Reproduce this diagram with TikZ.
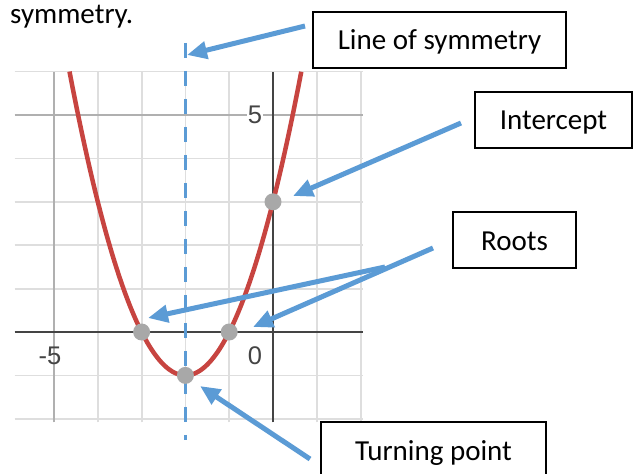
\documentclass[tikz,border=0pt]{standalone}
\usepackage{fontspec}
\setmainfont{Carlito}
\newfontfamily\graphfont{Liberation Sans}
\usetikzlibrary{arrows.meta}
\definecolor{arrowblue}{HTML}{5B9BD5}
\definecolor{curvered}{HTML}{C74440}
\definecolor{minorgrid}{HTML}{DEDEDE}
\definecolor{majorgrid}{HTML}{B0B0B0}
\definecolor{axisgray}{HTML}{444444}
\definecolor{pointgray}{HTML}{A8A8A8}
\begin{document}
\begin{tikzpicture}[x=1pt,y=-1pt,
  labelbox/.style={draw=black, line width=1.3pt, font=\fontsize{29}{34}\selectfont,
    text height=20pt, text depth=0pt, inner sep=0pt, minimum height=56pt},
  callout/.style={draw=arrowblue, line width=5pt, -{Triangle[length=20pt,width=17pt]}},
  minorline/.style={draw=minorgrid, line width=1.8pt},
  majorline/.style={draw=majorgrid, line width=1.8pt},
  axisline/.style={draw=axisgray, line width=2.2pt},
  ticklabel/.style={font=\graphfont\fontsize{25.5}{26}\selectfont, text=axisgray, inner sep=1pt},
  dot/.style={circle, fill=pointgray, minimum size=17pt, inner sep=0pt}]
\useasboundingbox (0,0) rectangle (636,473);
\fill[white] (0,0) rectangle (636,473);

\node[anchor=base west, inner sep=0pt, font=\fontsize{29}{34}\selectfont] (title) at (10,24) {symmetry.};

\begin{scope}[shift={(273pt,-332pt)}, x=43.8pt, y=43.4pt]
  \foreach \i in {-4,-3,-2,-1,1,2} \draw[minorline] (\i,-2.08) -- (\i,6);
  \foreach \j in {-2,-1,1,2,3,4,6} \draw[minorline] (-5.9,\j) -- (2.05,\j);
  \draw[majorline] (-5,-2.08) -- (-5,6);
  \draw[majorline] (-5.9,5) -- (2.05,5);
  \draw[axisline] (-5.9,0) -- (2.05,0);
  \draw[axisline] (0,-2.08) -- (0,6);
  \draw[curvered, line width=4.5pt] plot[domain=-4.646:0.646, samples=120, smooth] (\x, {\x*\x+4*\x+3});
  \draw[arrowblue, line width=3.5pt, dash pattern=on 15pt off 13pt] (-2,6.66) -- (-2,-2.49);
  \node[dot] (rootL) at (-3,0) {};
  \node[dot] (rootR) at (-1,0) {};
  \node[dot] (vertex) at (-2,-1) {};
  \node[dot] (yint) at (0,3) {};
\end{scope}

\node[ticklabel] (lm5) at (50,356) {-5};
\node[ticklabel] (l0) at (255,356) {0};
\node[ticklabel, fill=white] (l5) at (255,115) {5};

\node[labelbox, minimum width=253pt] (los) at (439.5,40) {Line of symmetry};
\node[labelbox, minimum width=157pt] (int) at (553.5,120) {Intercept};
\node[labelbox, minimum width=123pt] (roots) at (514.5,240) {Roots};
\node[labelbox, minimum width=225pt] (turn) at (433.5,450) {Turning point};

\coordinate (losS) at (305,26);   \coordinate (losT) at (187,55);
\coordinate (intS) at (461,123);  \coordinate (intT) at (293,196);
\coordinate (rAS) at (433,248);   \coordinate (rAT) at (253,327);
\coordinate (rBS) at (385,267);   \coordinate (rBT) at (148,318);
\coordinate (tpS) at (310,459);   \coordinate (tpT) at (200,386);

\draw[callout] (losS) -- (losT);
\draw[callout] (intS) -- (intT);
\draw[callout] (rAS) -- (rAT);
\draw[callout] (rBS) -- (rBT);
\draw[callout] (tpS) -- (tpT);
\end{tikzpicture}
\end{document}
